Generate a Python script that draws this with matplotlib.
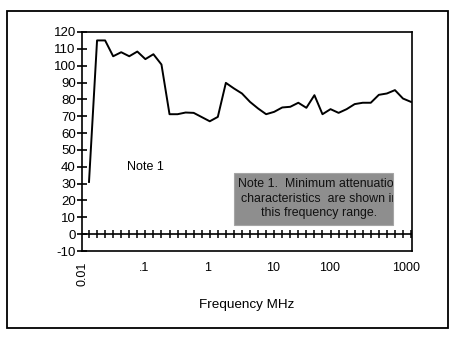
import numpy as np
import matplotlib.pyplot as plt
from matplotlib.patches import Rectangle
from matplotlib.transforms import Bbox, TransformedBbox

plt.rcParams['font.family'] = ['Liberation Sans', 'DejaVu Sans']
plt.rcParams['axes.unicode_minus'] = False

# attenuation (dB) at each evenly spaced frequency step, 0.01 MHz .. 1000 MHz
attenuation = [31, 115, 115, 105.6, 108, 105.6, 108.4, 103.9, 106.8, 100.7,
               71.2, 71.2, 72.2, 72, 69.5, 67, 69.6, 89.8, 86.5, 83.5,
               78.5, 74.6, 71.2, 72.6, 75.2, 75.6, 78, 75, 82.5, 71.2,
               74.2, 72, 74.2, 77.2, 78, 78, 82.7, 83.5, 85.5, 80.5, 78.5]
freq_labels = ["0.01", ".1", "1", "10", "100", "1000"]
freq_label_pos = [-0.87, 6.8, 14.7, 22.9, 29.9, 39.4]
note_lines = "Note 1.  Minimum attenuation\ncharacteristics  are shown in\nthis frequency range."

steps = np.arange(len(attenuation))

fig = plt.figure(figsize=(4.59, 3.38), dpi=100)
fig.patches.append(Rectangle((7 / 459, 10 / 338), 441 / 459, 317 / 338,
                             transform=fig.transFigure, fill=False,
                             edgecolor="black", linewidth=1.3))

ax = fig.add_axes([82 / 459, 87 / 338, 330 / 459, 219 / 338])
ax.plot(steps, attenuation, color="black", linewidth=1.4)

# zero line with a tick at every step
ax.axhline(0, color="black", linewidth=1.2)
ax.plot(steps, np.zeros(len(steps)), linestyle="none", marker="|",
        markersize=6, markeredgewidth=1.1, color="black")

ax.set_xlim(-0.87, 40.12)
ax.set_ylim(-10, 120)
ax.set_yticks(np.arange(-10, 121, 10))
ax.tick_params(axis="y", direction="inout", length=7, width=1.2, pad=1,
               labelsize=9.5)
ax.set_xticks(freq_label_pos)
ax.set_xticklabels(freq_labels)
ax.tick_params(axis="x", length=0, pad=8, labelsize=9)
ax.get_xticklabels()[0].set_rotation(90)
ax.get_xticklabels()[0].set_verticalalignment("top")
for s in ax.spines.values():
    s.set_linewidth(1.2)

ax.set_xlabel("Frequency MHz", fontsize=9.7, labelpad=9)

ax.text(7.0, 40, "Note 1", fontsize=9, ha="center", va="center")

# grey note box, text clipped to it (figure fractions)
bx, by, bw, bh = 234 / 459, (338 - 225) / 338, 159 / 459, 52.3 / 338
fig.patches.append(Rectangle((bx, by), bw, bh, transform=fig.transFigure,
                             facecolor="#8e8e8e", edgecolor="#a5a5a5",
                             linewidth=0.8, zorder=3))
t = fig.text(319.5 / 459, (338 - 198.5) / 338, note_lines, fontsize=8.9,
             ha="center", va="center", linespacing=1.25, color="#111111",
             zorder=4)
t.set_clip_box(TransformedBbox(Bbox.from_bounds(bx, by, bw, bh), fig.transFigure))
t.set_clip_on(True)

fig.savefig("out.png", dpi=100)
